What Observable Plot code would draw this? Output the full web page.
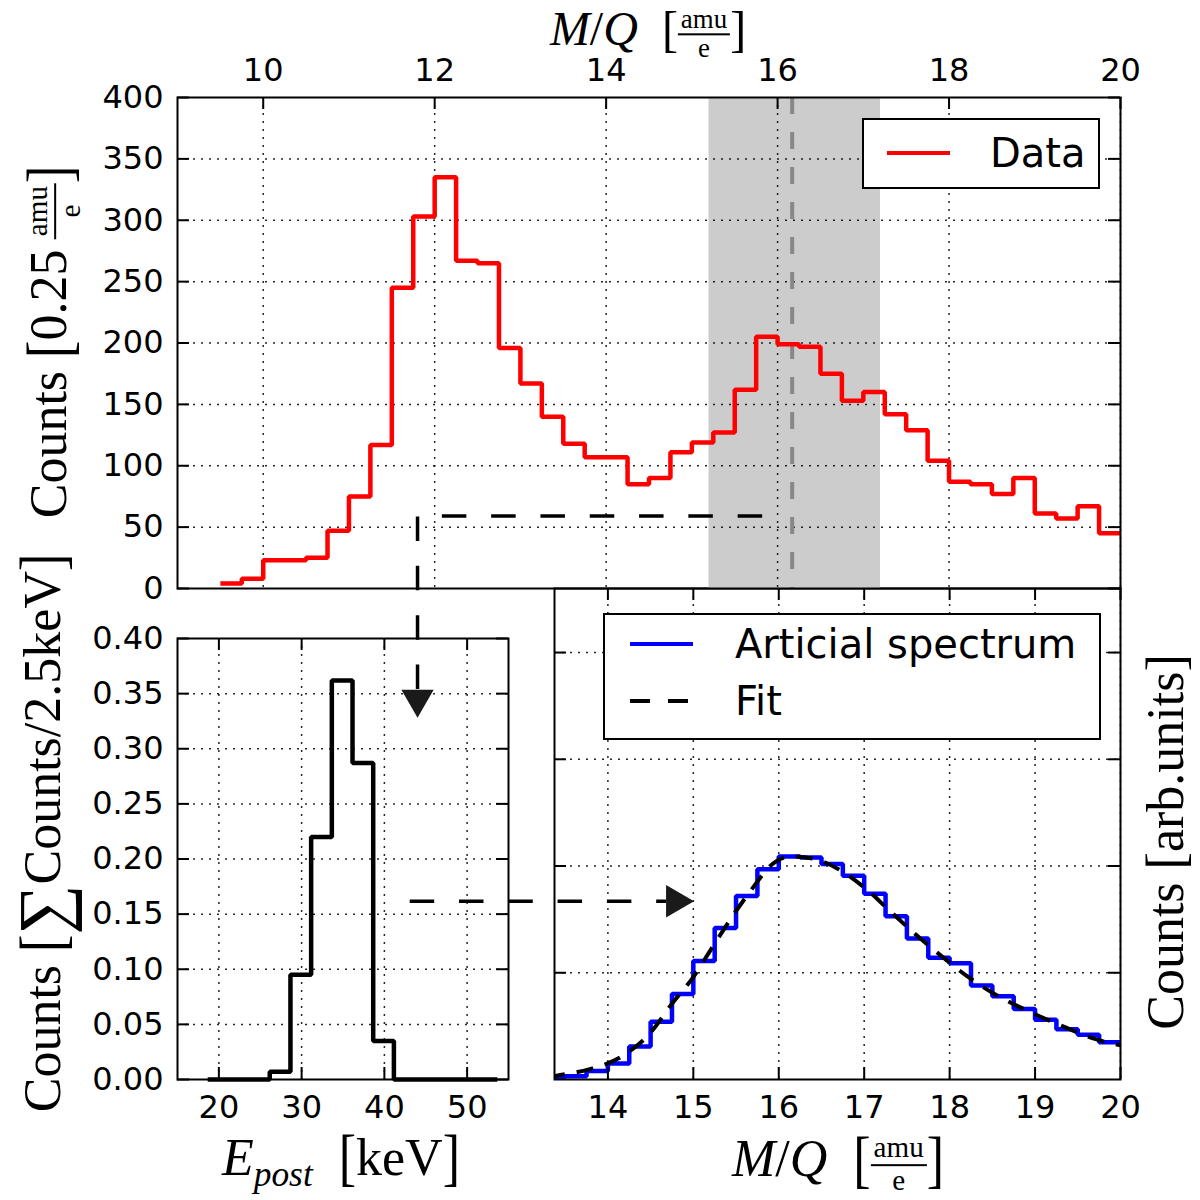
<!DOCTYPE html>
<html>
<head>
<meta charset="utf-8">
<script src="https://cdn.jsdelivr.net/npm/d3@7"></script>
<script src="https://cdn.jsdelivr.net/npm/@observablehq/plot@0.6"></script>
<style>
  body { margin: 0; background: #fff; }
  #fig { position: relative; width: 1200px; height: 1200px; overflow: hidden; background: #fff; }
  #fig svg { position: absolute; left: 0; top: 0; }
  .lab { position: absolute; font-family: "Liberation Serif", serif; font-size: 52px; white-space: nowrap; color: #000; line-height: 1; }
  .rot { transform: translate(-50%, -50%) rotate(-90deg); }
  .ctr { transform: translate(-50%, -50%); }
  .it { font-style: italic; }
  .fr { display: inline-flex; flex-direction: column; vertical-align: middle; font-size: 0.56em; text-align: center; line-height: 1; }
  .fr .n { border-bottom: 2px solid #000; padding: 0 3px 1px; }
  .br { display: inline-block; transform: scaleY(1.2); }
  .top .br, .side .br { transform: scaleY(1.05); }
  .sum { font-size: 1.35em; vertical-align: -0.1em; }
  .legend { position: absolute; box-sizing: border-box; border: 2px solid #000; background: #fff;
            font-family: "DejaVu Sans", sans-serif; font-size: 40px; }
  .legend .sw { position: absolute; height: 0; }
  .legend .tx { position: absolute; line-height: 1; transform: translateY(-50%); white-space: nowrap; }
</style>
</head>
<body>
<div id="fig"></div>
<script>
// measured M/Q spectrum, 0.25 amu/e bins
const dataBinLeft = [9.5, 9.75, 10, 10.25, 10.5, 10.75, 11, 11.25, 11.5, 11.75, 12, 12.25, 12.5, 12.75,
  13, 13.25, 13.5, 13.75, 14, 14.25, 14.5, 14.75, 15, 15.25, 15.5, 15.75, 16, 16.25, 16.5, 16.75,
  17, 17.25, 17.5, 17.75, 18, 18.25, 18.5, 18.75, 19, 19.25, 19.5, 19.75];
const dataCounts = [4, 8, 23, 23, 25, 47, 75, 117, 245, 303, 335, 267, 265, 196,
  167, 140, 118, 107, 107, 85, 90, 111, 119, 127, 162, 205, 199, 197, 175, 153,
  160, 142, 129, 104, 87, 85, 77, 90, 61, 57, 67, 45];
const dataBinEnd = 20;

// E_post distribution of the selected slice, 2.5 keV bins
const energyBinLeft = [18.65, 21.15, 23.65, 26.15, 28.65, 31.15, 33.65, 36.15, 38.65, 41.15, 43.65, 46.15, 48.65, 51.15];
const energyShare = [0, 0, 0, 0.007, 0.095, 0.22, 0.362, 0.287, 0.035, 0, 0, 0, 0, 0];
const energyBinEnd = 53.65;

// artificial spectrum
const artBinLeft = [13.25, 13.5, 13.75, 14, 14.25, 14.5, 14.75, 15, 15.25, 15.5, 15.75, 16, 16.25, 16.5,
  16.75, 17, 17.25, 17.5, 17.75, 18, 18.25, 18.5, 18.75, 19, 19.25, 19.5, 19.75];
const artCounts = [0.002, 0.003, 0.008, 0.015, 0.031, 0.054, 0.080, 0.111, 0.142, 0.172, 0.197, 0.209, 0.208, 0.202,
  0.191, 0.174, 0.153, 0.132, 0.114, 0.109, 0.088, 0.078, 0.066, 0.056, 0.047, 0.042, 0.035];
const artBinEnd = 20;

// fit curve
const fitMQ = [13.3, 13.4, 13.8, 14.15, 14.5, 14.75, 15.0, 15.2, 15.45, 15.7, 15.9, 16.15, 16.4, 16.7,
  17.0, 17.3, 17.6, 17.9, 18.2, 18.55, 18.95, 19.35, 19.7, 20.0];
const fitCounts = [0.002, 0.0035, 0.010, 0.021, 0.044, 0.071, 0.096, 0.121, 0.152, 0.180, 0.200, 0.209, 0.207, 0.197,
  0.180, 0.158, 0.136, 0.116, 0.097, 0.079, 0.063, 0.049, 0.038, 0.032];

// selection slice and annotation arrows
const sliceBand = [15.2, 17.2];
const sliceCenter = 16.17;
const cutPathMQ = [15.82, 11.8, 11.8];
const cutPathCounts = [59, 59, -83];
const cutHead = {mq: 11.8, counts: -90};
const mapPathMQ = [11.68, 14.68];
const mapPathLevel = 0.167;
const mapHead = {mq: 14.79, level: 0.167};

// axes
const topMQDomain = [9, 20];
const countDomain = [0, 400];
const topMQTicks = [10, 12, 14, 16, 18, 20];
const countTicks = [0, 50, 100, 150, 200, 250, 300, 350, 400];
const energyDomain = [15, 55];
const shareDomain = [0, 0.40];
const energyTicks = [20, 30, 40, 50];
const shareTicks = [0, 0.05, 0.10, 0.15, 0.20, 0.25, 0.30, 0.35, 0.40];
const lowMQDomain = [13.375, 20];
const arbDomain = [0, 0.46];
const lowMQTicks = [14, 15, 16, 17, 18, 19, 20];
const arbTicks = [0.1, 0.2, 0.3, 0.4];

const steps = (left, vals, end) =>
  left.map((x, i) => ({x, y: vals[i]})).concat([{x: end, y: vals[vals.length - 1]}]);

const grid = {stroke: "#000", strokeOpacity: 0.85, strokeWidth: 1.5, strokeDasharray: "2,6"};
const TL = 12;

function inward(xt, yt, W, H, sides) {
  const m = [];
  if (sides.includes("t")) m.push(Plot.ruleX(xt, {insetBottom: H - TL, stroke: "#000", strokeWidth: 2}));
  if (sides.includes("b")) m.push(Plot.ruleX(xt, {insetTop: H - TL, stroke: "#000", strokeWidth: 2}));
  if (sides.includes("l")) m.push(Plot.ruleY(yt, {insetRight: W - TL, stroke: "#000", strokeWidth: 2}));
  if (sides.includes("r")) m.push(Plot.ruleY(yt, {insetLeft: W - TL, stroke: "#000", strokeWidth: 2}));
  return m;
}

const style = {background: "transparent", fontFamily: "'DejaVu Sans', sans-serif", fontSize: "32px", overflow: "visible", color: "#000"};
const fig = document.getElementById("fig");

// bottom-left: E_post
{
  const mT = 638, mB = 121, mL = 177, mR = 692;
  const W = 1200 - mL - mR, H = 1200 - mT - mB;
  fig.append(Plot.plot({
    width: 1200, height: 1200, marginTop: mT, marginBottom: mB, marginLeft: mL, marginRight: mR,
    style,
    x: {domain: energyDomain, axis: null},
    y: {domain: shareDomain, axis: null},
    marks: [
      Plot.gridX({ticks: energyTicks, ...grid}),
      Plot.gridY({ticks: shareTicks.slice(1, -1), ...grid}),
      Plot.line(steps(energyBinLeft, energyShare, energyBinEnd), {x: "x", y: "y", curve: "step-after",
        stroke: "#000", strokeWidth: 4.5, strokeLinejoin: "miter", strokeLinecap: "butt"}),
      Plot.frame({stroke: "#000", strokeWidth: 2}),
      ...inward(energyTicks, shareTicks, W, H, "tblr"),
      Plot.axisX({ticks: energyTicks, anchor: "bottom", tickSize: 0, tickPadding: 16, label: null}),
      Plot.axisY({ticks: shareTicks, anchor: "left", tickSize: 0, tickPadding: 14, label: null, tickFormat: d3.format(".2f")})
    ]
  }));
}

// bottom-right: artificial spectrum + fit
{
  const mT = 588, mB = 121, mL = 554, mR = 80;
  const W = 1200 - mL - mR, H = 1200 - mT - mB;
  fig.append(Plot.plot({
    width: 1200, height: 1200, marginTop: mT, marginBottom: mB, marginLeft: mL, marginRight: mR,
    style,
    x: {domain: lowMQDomain, axis: null},
    y: {domain: arbDomain, axis: null},
    marks: [
      Plot.gridX({ticks: lowMQTicks, ...grid}),
      Plot.gridY({ticks: arbTicks, ...grid}),
      Plot.line(steps(artBinLeft, artCounts, artBinEnd), {x: "x", y: "y", curve: "step-after", clip: true,
        stroke: "#0000ff", strokeWidth: 4.5, strokeLinejoin: "miter", strokeLinecap: "butt"}),
      Plot.line(fitMQ.map((x, i) => ({x, y: fitCounts[i]})), {x: "x", y: "y", curve: "monotone-x", clip: true,
        stroke: "#000", strokeWidth: 4, strokeDasharray: "17,12", strokeLinecap: "butt"}),
      Plot.line(mapPathMQ.map(x => ({x, y: mapPathLevel})), {x: "x", y: "y",
        stroke: "#000", strokeWidth: 3.5, strokeDasharray: "24.5,24.8", strokeLinecap: "butt"}),
      Plot.dot([mapHead], {x: "mq", y: "level", symbol: "triangle", r: 12, fill: "#1a1a1a", rotate: 90}),
      Plot.frame({stroke: "#000", strokeWidth: 2}),
      ...inward(lowMQTicks, arbTicks, W, H, "tblr"),
      Plot.axisX({ticks: lowMQTicks, anchor: "bottom", tickSize: 0, tickPadding: 16, label: null, tickFormat: d3.format("d")})
    ]
  }));
}

// top: measured spectrum
{
  const mT = 97, mB = 612, mL = 177, mR = 80;
  const W = 1200 - mL - mR, H = 1200 - mT - mB;
  fig.append(Plot.plot({
    width: 1200, height: 1200, marginTop: mT, marginBottom: mB, marginLeft: mL, marginRight: mR,
    style,
    x: {domain: topMQDomain, axis: null},
    y: {domain: countDomain, axis: null},
    marks: [
      Plot.rect([sliceBand], {x1: d => d[0], x2: d => d[1], y1: () => countDomain[0], y2: () => countDomain[1], fill: "#cccccc"}),
      Plot.gridX({ticks: topMQTicks, ...grid}),
      Plot.gridY({ticks: countTicks.slice(1, -1), ...grid}),
      Plot.ruleX([sliceCenter], {stroke: "#888888", strokeWidth: 4, strokeDasharray: "17,18"}),
      Plot.line(steps(dataBinLeft, dataCounts, dataBinEnd), {x: "x", y: "y", curve: "step-after",
        stroke: "#ff0000", strokeWidth: 4.5, strokeLinejoin: "miter", strokeLinecap: "butt"}),
      Plot.line(cutPathMQ.map((x, i) => ({x, y: cutPathCounts[i]})), {x: "x", y: "y",
        stroke: "#000", strokeWidth: 3.5, strokeDasharray: "24.5,24.8", strokeLinecap: "butt", strokeLinejoin: "miter"}),
      Plot.dot([cutHead], {x: "mq", y: "counts", symbol: "triangle", r: 12, fill: "#1a1a1a", rotate: 180}),
      Plot.frame({stroke: "#000", strokeWidth: 2}),
      ...inward(topMQTicks, countTicks, W, H, "tlr"),
      Plot.axisX({ticks: topMQTicks, anchor: "top", tickSize: 0, tickPadding: 17, label: null}),
      Plot.axisY({ticks: countTicks, anchor: "left", tickSize: 0, tickPadding: 14, label: null})
    ]
  }));
}

// legends and axis labels
const frac = (a, b) => `<span class="br">[</span><span class="fr"><span class="n">${a}</span><span>${b}</span></span><span class="br">]</span>`;
fig.insertAdjacentHTML("beforeend", `
  <div class="legend" style="left:862px;top:118px;width:238px;height:71px">
    <div class="sw" style="left:23px;top:31px;width:63px;border-top:4.5px solid #ff0000"></div>
    <div class="tx" style="left:126px;top:33px">Data</div>
  </div>
  <div class="legend" style="left:603px;top:613px;width:498px;height:127px">
    <div class="sw" style="left:25px;top:27px;width:63px;border-top:4.5px solid #0000ff"></div>
    <div class="tx" style="left:130px;top:29px">Articial spectrum</div>
    <div class="sw" style="left:25px;top:84px;width:20px;border-top:4.5px solid #000"></div>
    <div class="sw" style="left:63px;top:84px;width:20px;border-top:4.5px solid #000"></div>
    <div class="tx" style="left:130px;top:86px">Fit</div>
  </div>
  <div class="lab ctr top" style="left:648px;top:34px;font-size:48px"><span class="it">M</span>/<span class="it">Q</span>&nbsp; ${frac("amu", "e")}</div>
  <div class="lab rot" style="left:54px;top:342px">Counts ${frac("amu", "e").replace('<span class="br">[</span>', '<span class="br">[</span>0.25&thinsp;')}</div>
  <div class="lab rot" style="left:43px;top:833px">Counts <span class="br">[</span><span class="sum">&sum;</span>Counts/2.5keV<span class="br">]</span></div>
  <div class="lab rot side" style="left:1166px;top:842px;font-size:52px">Counts <span class="br">[</span>arb.units<span class="br">]</span></div>
  <div class="lab ctr" style="left:341px;top:1162px"><span class="it">E</span><sub class="it" style="font-size:0.68em">post</sub>&nbsp; <span class="br">[</span>keV<span class="br">]</span></div>
  <div class="lab ctr" style="left:838px;top:1164px"><span class="it">M</span>/<span class="it">Q</span>&nbsp; ${frac("amu", "e")}</div>
`);
</script>
</body>
</html>
